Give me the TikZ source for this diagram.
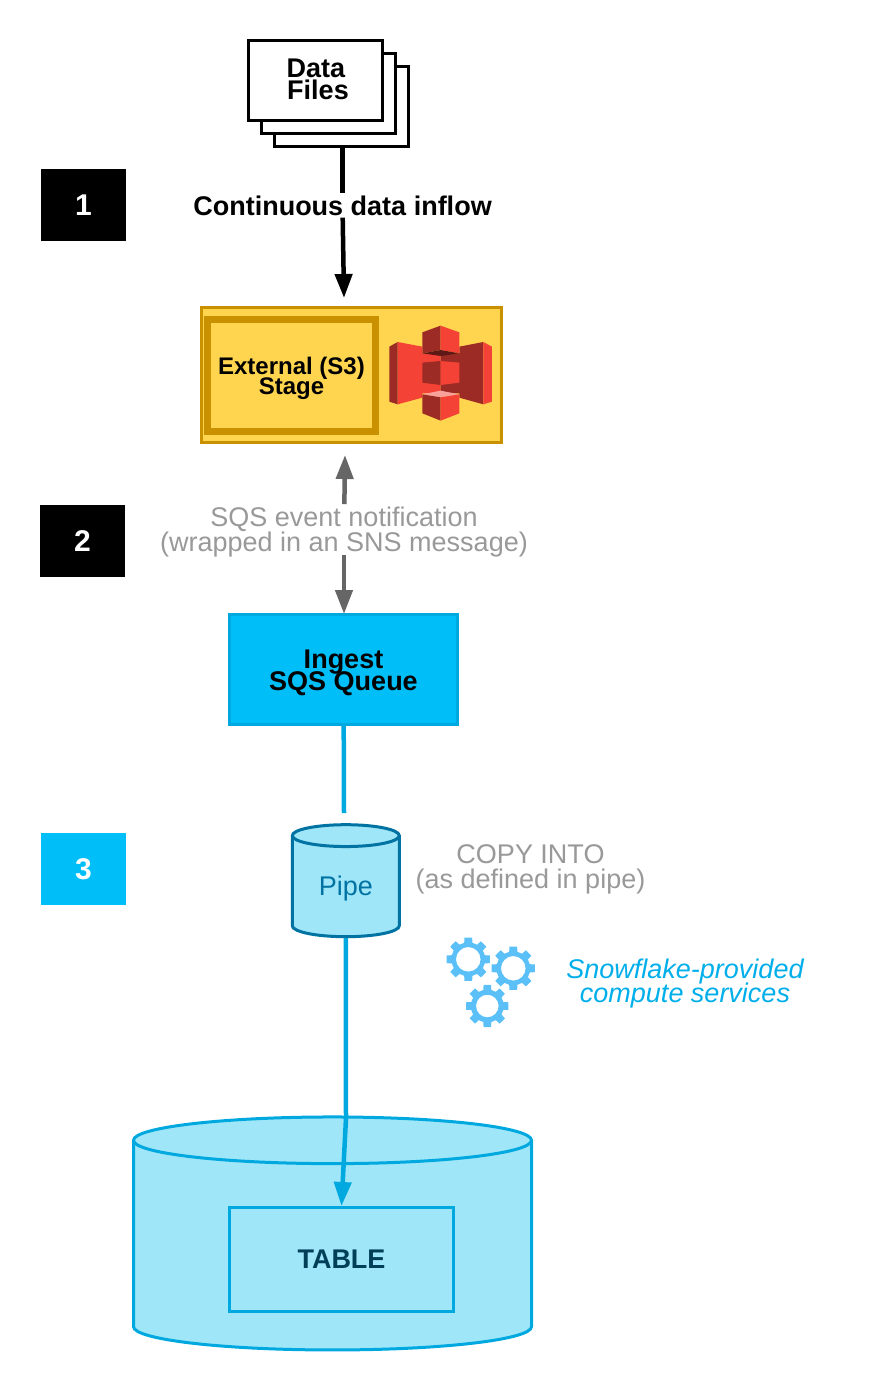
\documentclass[tikz,border=0pt]{standalone}
\usepackage{fontspec}
\setmainfont{Liberation Sans}
\usepackage{xcolor}
\usetikzlibrary{positioning}
\usetikzlibrary{shapes.geometric, arrows.meta}

\definecolor{stagefill}{HTML}{FFD54F}
\definecolor{stageline}{HTML}{C99000}
\definecolor{queuefill}{HTML}{00BEF7}
\definecolor{flowblue}{HTML}{00A8E0}
\definecolor{cylfill}{HTML}{9EE6F8}
\definecolor{pipeline}{HTML}{0073A3}
\definecolor{greytext}{HTML}{999999}
\definecolor{gearblue}{HTML}{5AC0F7}
\definecolor{snowtext}{HTML}{00AEEA}
\definecolor{tabletext}{HTML}{003F57}
\definecolor{sthreelight}{HTML}{F44336}
\definecolor{sthreedark}{HTML}{9C2A25}

% one gear icon: centre x, centre y, outer radius, root radius, hole radius
\newcommand{\gearicon}[5]{
    \fill[gearblue, even odd rule, shift={(#1,#2)}] (0,0) circle (#5) (-10:#3)
        \foreach \t in {0,45,...,315} {
            -- (\t-10:#3) -- (\t+10:#3) -- (\t+14:#4) -- (\t+31:#4)
        } -- cycle;
}
% tight lines, whatever the letters hang down to
\newcommand{\tightfont}[2]{\fontsize{#1}{#2}\selectfont\lineskiplimit=-50pt\relax}

\begin{document}
\begin{tikzpicture}[
    x=1pt, y=-1pt,
    filebox/.style = {draw, line width=3pt, fill=white, minimum width=134pt, minimum height=80pt,
        align=center, font=\tightfont{27}{22}\bfseries},
    badge/.style = {fill=black, text=white, minimum width=85pt, minimum height=72pt,
        font=\fontsize{30}{30}\selectfont\bfseries},
    greylabel/.style = {fill=white, inner sep=0pt, align=center, text=greytext,
        font=\tightfont{27}{25}},
    flow/.style = {line width=4.5pt, -{Triangle[length=24pt,width=17pt]}},
    plainflow/.style = {line width=4.5pt}
    ]
    \useasboundingbox (0,0) rectangle (871,1391);
    % data files
    \node (back) [filebox] at (341,107) {};
    \node (mid) [filebox, xshift=-13pt, yshift=13.1pt] at (back) {};
    \node (files) [filebox, xshift=-13pt, yshift=13.1pt] at (mid)
        {\hspace*{2pt}Data\\\hspace*{6pt}\rule[-4pt]{0pt}{4pt}Files};
    % step badges
    \node (one) [badge] at (83.5,205) {1};
    \node (two) [badge] at (82.5,541) {2};
    \node (three) [badge, fill=queuefill] at (83.5,869) {3};
    % stage
    \node (stage) [draw=stageline, fill=stagefill, line width=2.5pt, minimum width=300pt,
        minimum height=135pt] at (351.5,375) {};
    \node (extstage) [draw=stageline, line width=7pt, minimum width=168pt, minimum height=112pt,
        align=center, font=\tightfont{24}{20}\bfseries] at (291.5,375.5) {\rule{0pt}{24pt}External (S3)\\Stage};
    % s3 icon
    \begin{scope}[shift={(190,300)}, x=0.3333pt, y=-0.3333pt]
        \fill[sthreelight] (623,126) -- (697,140) -- (697,160) -- (752,160) -- (752,280) -- (697,280)
            -- (697,293) -- (623,313) -- cycle;
        \fill[sthreedark] (598,140) -- (623,126) -- (623,313) -- (598,305) -- cycle;
        \fill[sthreedark] (808,140) -- (880,126) -- (880,313) -- (808,293) -- (808,280) -- (752,280)
            -- (752,160) -- (808,160) -- cycle;
        \fill[sthreelight] (880,126) -- (906,140) -- (906,305) -- (880,313) -- cycle;
        \fill[sthreedark] (697,97) -- (752,77) -- (752,150) -- (697,160) -- cycle;
        \fill[sthreelight] (752,77) -- (808,97) -- (808,160) -- (752,150) -- cycle;
        \fill[black!40!sthreedark] (697,160) -- (752,150) -- (808,160) -- (752,168) -- cycle;
        \fill[sthreedark] (697,188) -- (752,183) -- (752,255) -- (697,248) -- cycle;
        \fill[sthreelight] (752,183) -- (808,188) -- (808,248) -- (752,255) -- cycle;
        \fill[sthreelight!50!white] (697,283) -- (752,272) -- (808,283) -- (752,292) -- cycle;
        \fill[sthreedark] (697,283) -- (752,292) -- (752,362) -- (697,340) -- cycle;
        \fill[sthreelight] (752,292) -- (808,283) -- (808,340) -- (752,362) -- cycle;
    \end{scope}
    % queue, pipe, table
    \node (queue) [draw=flowblue, fill=queuefill, line width=2.5pt, minimum width=228pt, minimum height=110pt,
        align=center, font=\tightfont{27}{22}\bfseries] at (343.5,669.5) {\rule{0pt}{26pt}Ingest\\SQS Queue};
    \node (pipe) [cylinder, shape border rotate=90, aspect=0.36, cylinder uses custom fill,
        cylinder body fill=cylfill, cylinder end fill=cylfill, draw=pipeline, line width=3pt,
        minimum width=107pt, minimum height=112pt, text=pipeline, font=\fontsize{27}{27}\selectfont]
        at (345.8,888.8) {Pipe};
    \node (store) [cylinder, shape border rotate=90, aspect=7, cylinder uses custom fill,
        cylinder body fill=cylfill, cylinder end fill=cylfill, draw=flowblue, line width=3pt,
        minimum width=398pt, minimum height=233pt] at (332.5,1248) {};
    \node (table) [draw=flowblue, line width=3pt, minimum width=224pt, minimum height=104pt,
        text=tabletext, font=\fontsize{27}{27}\selectfont\bfseries] at (341.5,1259.5) {TABLE};
    % labels
    \node (inflow) [fill=white, inner sep=0pt, minimum height=24pt, font=\fontsize{27}{27}\selectfont\bfseries]
        at (342.5,205.5) {Continuous data inflow};
    \node (sqs) [greylabel] at (344,532.5) {SQS event notification\\(wrapped in an SNS message)};
    \node (copy) [greylabel] at (530.5,869) {COPY INTO\\(as defined in pipe)};
    \node (snow) [align=center, text=snowtext, inner sep=0pt, font=\tightfont{27}{24}\itshape]
        at (685,984) {Snowflake-provided\\compute services};
    % gears
    \gearicon{468.3}{959.3}{22}{17}{12.3}
    \gearicon{513.3}{968.3}{22}{17}{12.3}
    \gearicon{487.3}{1006}{21.5}{16.5}{11.3}
    % connectors
    \coordinate (inflowend) at (344,298);
    \coordinate (stagein) at (345,455);
    \coordinate (queuein) at (344,614);
    \coordinate (pipein) at (344,813);
    \coordinate (bend) at (346,1118);
    \draw[plainflow] (back.south -| inflow) -- (inflow);
    \draw[flow] (inflow) -- (inflowend);
    \draw[flow, black!60, shorten <=3pt] (sqs) -- (stagein);
    \draw[flow, black!60, shorten <=-3pt] (sqs) -- (queuein);
    \draw[plainflow, flowblue] (queue) -- (pipein);
    \draw[flow, flowblue] (pipe.south) -- (bend) -- (table.north);
\end{tikzpicture}
\end{document}
